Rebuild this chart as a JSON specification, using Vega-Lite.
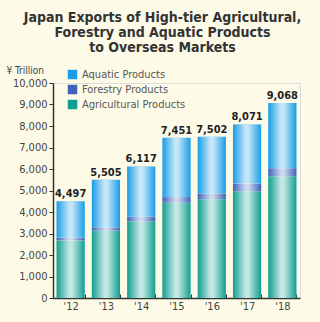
{
  "$schema": "https://vega.github.io/schema/vega-lite/v6.json",
  "width": 247,
  "height": 215,
  "autosize": {"type": "none"},
  "padding": {"left": 53, "top": 83, "right": 20, "bottom": 24},
  "background": "#fdfbe8",
  "config": {
    "font": "DejaVu Sans Condensed, Liberation Sans, sans-serif"
  },
  "title": {
    "text": ["Japan Exports of High-tier Agricultural,", "Forestry and Aquatic Products", "to Overseas Markets"],
    "font": "DejaVu Sans Condensed, Liberation Sans, sans-serif",
    "fontSize": 14,
    "fontWeight": "bold",
    "color": "#333333",
    "lineHeight": 15,
    "anchor": "middle",
    "dx": -14,
    "offset": 10
  },
  "data": {
    "values": [
      {"year": "'12", "category": "Agricultural Products", "ord": 1, "value": 2680},
      {"year": "'12", "category": "Forestry Products", "ord": 2, "value": 118},
      {"year": "'12", "category": "Aquatic Products", "ord": 3, "value": 1699},
      {"year": "'13", "category": "Agricultural Products", "ord": 1, "value": 3136},
      {"year": "'13", "category": "Forestry Products", "ord": 2, "value": 152},
      {"year": "'13", "category": "Aquatic Products", "ord": 3, "value": 2217},
      {"year": "'14", "category": "Agricultural Products", "ord": 1, "value": 3569},
      {"year": "'14", "category": "Forestry Products", "ord": 2, "value": 211},
      {"year": "'14", "category": "Aquatic Products", "ord": 3, "value": 2337},
      {"year": "'15", "category": "Agricultural Products", "ord": 1, "value": 4431},
      {"year": "'15", "category": "Forestry Products", "ord": 2, "value": 263},
      {"year": "'15", "category": "Aquatic Products", "ord": 3, "value": 2757},
      {"year": "'16", "category": "Agricultural Products", "ord": 1, "value": 4593},
      {"year": "'16", "category": "Forestry Products", "ord": 2, "value": 268},
      {"year": "'16", "category": "Aquatic Products", "ord": 3, "value": 2641},
      {"year": "'17", "category": "Agricultural Products", "ord": 1, "value": 4966},
      {"year": "'17", "category": "Forestry Products", "ord": 2, "value": 355},
      {"year": "'17", "category": "Aquatic Products", "ord": 3, "value": 2750},
      {"year": "'18", "category": "Agricultural Products", "ord": 1, "value": 5661},
      {"year": "'18", "category": "Forestry Products", "ord": 2, "value": 376},
      {"year": "'18", "category": "Aquatic Products", "ord": 3, "value": 3031}
    ]
  },
  "encoding": {
    "x": {
      "field": "year",
      "type": "ordinal",
      "scale": {"paddingInner": 0.2, "paddingOuter": 0.1},
      "axis": {
        "title": null,
        "labelAngle": 0,
        "labelFontSize": 11,
        "labelColor": "#444444",
        "labelPadding": 6,
        "domainColor": "#333333",
        "domainWidth": 1.5,
        "tickBand": "extent",
        "tickSize": -4,
        "tickColor": "#333333",
        "tickWidth": 1
      }
    },
    "y": {
      "field": "value",
      "type": "quantitative",
      "scale": {"domain": [0, 10000], "nice": false},
      "axis": {
        "title": "¥ Trillion",
        "titleAngle": 0,
        "titleAlign": "left",
        "titleBaseline": "middle",
        "titleX": -47,
        "titleY": -13,
        "titleFontSize": 10,
        "titleFontWeight": "normal",
        "titleColor": "#444444",
        "values": [0, 1000, 2000, 3000, 4000, 5000, 6000, 7000, 8000, 9000, 10000],
        "labelOverlap": false,
        "format": ",d",
        "labelFontSize": 11,
        "labelColor": "#444444",
        "labelPadding": 2,
        "domainColor": "#333333",
        "domainWidth": 1.5,
        "tickColor": "#333333",
        "tickSize": 4,
        "grid": false
      }
    }
  },
  "layer": [
    {
      "mark": {"type": "bar"},
      "encoding": {
        "y": {
          "field": "value",
          "type": "quantitative",
          "stack": "zero"
        },
        "color": {
          "field": "category",
          "type": "nominal",
          "scale": {
            "domain": ["Aquatic Products", "Forestry Products", "Agricultural Products"],
            "range": ["#189de6", "#3d62b8", "#0f9f90"]
          },
          "legend": {
            "title": null,
            "orient": "none",
            "legendX": 14,
            "legendY": -14,
            "symbolType": "square",
            "symbolSize": 90,
            "symbolStrokeWidth": 0,
            "labelFontSize": 11,
            "labelColor": "#555555",
            "rowPadding": 3
          }
        },
        "order": {"field": "ord", "type": "quantitative"}
      }
    },
    {
      "transform": [{"aggregate": [{"op": "sum", "field": "value", "as": "value"}], "groupby": ["year"]}],
      "mark": {
        "type": "bar",
        "fill": {
          "gradient": "linear",
          "x1": 0, "y1": 0, "x2": 1, "y2": 0,
          "stops": [
            {"offset": 0, "color": "rgba(255,255,255,0)"},
            {"offset": 0.45, "color": "rgba(255,255,255,0.75)"},
            {"offset": 0.55, "color": "rgba(255,255,255,0.75)"},
            {"offset": 1, "color": "rgba(255,255,255,0)"}
          ]
        }
      }
    },
    {
      "transform": [{"aggregate": [{"op": "sum", "field": "value", "as": "value"}], "groupby": ["year"]}],
      "mark": {
        "type": "text",
        "baseline": "bottom",
        "dy": -2,
        "fontSize": 11,
        "fontWeight": "bold",
        "color": "#222222"
      },
      "encoding": {
        "text": {"field": "value", "type": "quantitative", "format": ","}
      }
    }
  ]
}
